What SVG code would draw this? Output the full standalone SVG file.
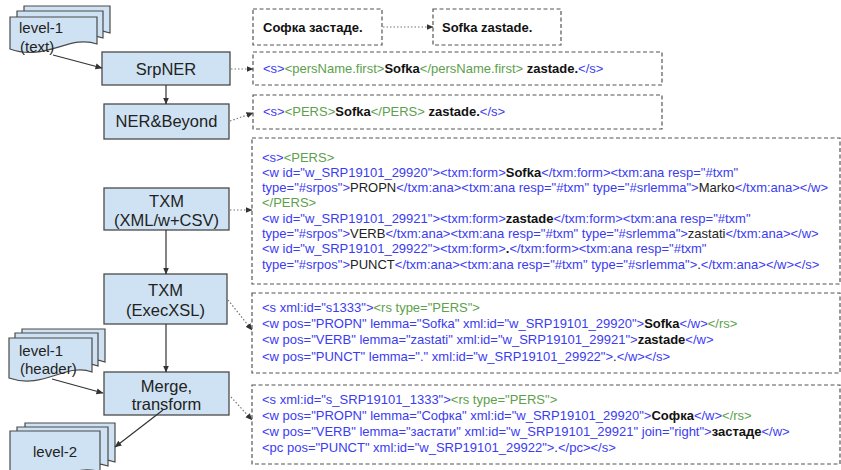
<svg xmlns="http://www.w3.org/2000/svg" width="841" height="470" viewBox="0 0 841 470">
<defs>
<style>
text{font-family:"Liberation Sans",Arial,sans-serif;}
.node{fill:#cfe2f3;stroke:#4a4a4a;stroke-width:1.3;}
.doc{fill:#cfe2f3;stroke:#4a4a4a;stroke-width:1.2;}
.lbl{font-size:16.5px;fill:#222;text-anchor:middle;}
.dl{font-size:15px;fill:#222;}
.box{fill:#fff;stroke:#555;stroke-width:1.2;stroke-dasharray:4 2.5;}
.big{font-size:13px;}
.sm{font-size:13px;}
.b{fill:#3b3bf2;}
.g{fill:#5da04c;}
.k{fill:#111;font-weight:bold;}
.n{fill:#222;}
.solid{stroke:#333;stroke-width:1.2;fill:none;marker-end:url(#ah);}
.dot{stroke:#777;stroke-width:1.2;fill:none;stroke-dasharray:1.5 2;marker-end:url(#ahd);}
</style>
<marker id="ah" markerUnits="userSpaceOnUse" markerWidth="7" markerHeight="7" refX="6.5" refY="3.5" orient="auto"><path d="M0,0.5 L7,3.5 L0,6.5 Z" fill="#333"/></marker>
<marker id="ahd" markerUnits="userSpaceOnUse" markerWidth="7" markerHeight="7" refX="6.5" refY="3.5" orient="auto"><path d="M0,0.5 L7,3.5 L0,6.5 Z" fill="#333"/></marker>
</defs>
<rect width="841" height="470" fill="#fff"/>

<g id="doc-level1-text">
<path class="doc" d="M24 6 H110 V33 C83 23 58 51 24 38 Z"/>
<path class="doc" d="M17 11 H103 V38 C76 28 51 56 17 43 Z"/>
<path class="doc" d="M10 17 H97 V44 C70 34 45 62 10 49 Z"/>
<text class="dl" x="19" y="33">level-1</text>
<text class="dl" x="20" y="52">(text)</text>
</g>

<g id="doc-level1-header">
<path class="doc" d="M22 329 H105 V362 C80 352 56 380 22 368 Z"/>
<path class="doc" d="M15 333 H98 V366 C73 356 49 384 15 372 Z"/>
<path class="doc" d="M9 338 H92 V372 C67 362 43 390 9 378 Z"/>
<text class="dl" x="19" y="356">level-1</text>
<text class="dl" x="20" y="374">(header)</text>
</g>

<g id="doc-level2">
<path class="doc" d="M25 423 H115 V462 C88 452 62 480 25 468 Z"/>
<path class="doc" d="M17 427 H108 V466 C81 456 55 484 17 472 Z"/>
<path class="doc" d="M10 431 H100 V472 C73 462 47 490 10 478 Z"/>
<text class="dl" x="33" y="457">level-2</text>
</g>

<g id="node-srpner">
<rect class="node" x="102" y="52" width="128" height="33"/>
<text class="lbl" x="166" y="75">SrpNER</text>
</g>
<g id="node-nerbeyond">
<rect class="node" x="104" y="104" width="125" height="35"/>
<text class="lbl" x="166.5" y="127">NER&amp;Beyond</text>
</g>
<g id="node-txm-xml">
<rect class="node" x="104" y="188" width="125" height="42"/>
<text class="lbl" x="166.5" y="207">TXM</text>
<text class="lbl" x="166.5" y="226">(XML/w+CSV)</text>
</g>
<g id="node-txm-xsl">
<rect class="node" x="104" y="274" width="123" height="50"/>
<text class="lbl" x="165.5" y="296">TXM</text>
<text class="lbl" x="165.5" y="316">(ExecXSL)</text>
</g>
<g id="node-merge">
<rect class="node" x="104" y="372" width="125" height="43"/>
<text class="lbl" x="166.5" y="392">Merge,</text>
<text class="lbl" x="166.5" y="410">transform</text>
</g>

<g id="box-cyr">
<rect class="box" x="253" y="9" width="129" height="36"/>
<text class="big k" x="263" y="32">Софка застаде.</text>
</g>
<g id="box-lat">
<rect class="box" x="433" y="9" width="128" height="36"/>
<text class="big k" x="442" y="32">Sofka zastade.</text>
</g>
<g id="box-srpner-out">
<rect class="box" x="253" y="52" width="409" height="33"/>
<text class="big" x="263" y="73"><tspan class="b">&lt;s&gt;</tspan><tspan class="g">&lt;persName.first&gt;</tspan><tspan class="k">Sofka</tspan><tspan class="g">&lt;/persName.first&gt;</tspan><tspan class="k"> zastade.</tspan><tspan class="b">&lt;/s&gt;</tspan></text>
</g>
<g id="box-ner-out">
<rect class="box" x="253" y="95" width="409" height="34"/>
<text class="big" x="263" y="116"><tspan class="b">&lt;s&gt;</tspan><tspan class="g">&lt;PERS&gt;</tspan><tspan class="k">Sofka</tspan><tspan class="g">&lt;/PERS&gt;</tspan><tspan class="k"> zastade.</tspan><tspan class="b">&lt;/s&gt;</tspan></text>
</g>
<g id="box-txm-out">
<rect class="box" x="252" y="138" width="588" height="146"/>
<text class="sm" x="262" y="161.5"><tspan class="b">&lt;s&gt;</tspan><tspan class="g">&lt;PERS&gt;</tspan></text>
<text class="sm" x="262" y="176.8"><tspan class="b">&lt;w id="w_SRP19101_29920"&gt;&lt;txm:form&gt;</tspan><tspan class="k">Sofka</tspan><tspan class="b">&lt;/txm:form&gt;&lt;txm:ana resp="#txm"</tspan></text>
<text class="sm" x="262" y="192.1"><tspan class="b">type="#srpos"&gt;</tspan><tspan class="n">PROPN</tspan><tspan class="b">&lt;/txm:ana&gt;&lt;txm:ana resp="#txm" type="#srlemma"&gt;</tspan><tspan class="n">Marko</tspan><tspan class="b">&lt;/txm:ana&gt;&lt;/w&gt;</tspan></text>
<text class="sm" x="262" y="207.4"><tspan class="g">&lt;/PERS&gt;</tspan></text>
<text class="sm" x="262" y="222.7"><tspan class="b">&lt;w id="w_SRP19101_29921"&gt;&lt;txm:form&gt;</tspan><tspan class="k">zastade</tspan><tspan class="b">&lt;/txm:form&gt;&lt;txm:ana resp="#txm"</tspan></text>
<text class="sm" x="262" y="238"><tspan class="b">type="#srpos"&gt;</tspan><tspan class="n">VERB</tspan><tspan class="b">&lt;/txm:ana&gt;&lt;txm:ana resp="#txm" type="#srlemma"&gt;</tspan><tspan class="n">zastati</tspan><tspan class="b">&lt;/txm:ana&gt;&lt;/w&gt;</tspan></text>
<text class="sm" x="262" y="253.3"><tspan class="b">&lt;w id="w_SRP19101_29922"&gt;&lt;txm:form&gt;</tspan><tspan class="k">.</tspan><tspan class="b">&lt;/txm:form&gt;&lt;txm:ana resp="#txm"</tspan></text>
<text class="sm" x="262" y="268.6"><tspan class="b">type="#srpos"&gt;</tspan><tspan class="n">PUNCT</tspan><tspan class="b">&lt;/txm:ana&gt;&lt;txm:ana resp="#txm" type="#srlemma"&gt;</tspan><tspan class="n">.</tspan><tspan class="b">&lt;/txm:ana&gt;&lt;/w&gt;&lt;/s&gt;</tspan></text>
</g>
<g id="box-xsl-out">
<rect class="box" x="252" y="293" width="588" height="80"/>
<text class="sm" x="262" y="311.5"><tspan class="b">&lt;s xml:id="s1333"&gt;</tspan><tspan class="g">&lt;rs type="PERS"&gt;</tspan></text>
<text class="sm" x="262" y="327.5"><tspan class="b">&lt;w pos="PROPN" lemma="Sofka" xml:id="w_SRP19101_29920"&gt;</tspan><tspan class="k">Sofka</tspan><tspan class="b">&lt;/w&gt;</tspan><tspan class="g">&lt;/rs&gt;</tspan></text>
<text class="sm" x="262" y="344"><tspan class="b">&lt;w pos="VERB" lemma="zastati" xml:id="w_SRP19101_29921"&gt;</tspan><tspan class="k">zastade</tspan><tspan class="b">&lt;/w&gt;</tspan></text>
<text class="sm" x="262" y="360.5"><tspan class="b">&lt;w pos="PUNCT" lemma="." xml:id="w_SRP19101_29922"&gt;</tspan><tspan class="n">.</tspan><tspan class="b">&lt;/w&gt;&lt;/s&gt;</tspan></text>
</g>
<g id="box-merge-out">
<rect class="box" x="252" y="385" width="588" height="79"/>
<text class="sm" x="262" y="404"><tspan class="b">&lt;s xml:id="s_SRP19101_1333"&gt;</tspan><tspan class="g">&lt;rs type="PERS"&gt;</tspan></text>
<text class="sm" x="262" y="420"><tspan class="b">&lt;w pos="PROPN" lemma="Софка" xml:id="w_SRP19101_29920"&gt;</tspan><tspan class="k">Софка</tspan><tspan class="b">&lt;/w&gt;</tspan><tspan class="g">&lt;/rs&gt;</tspan></text>
<text class="sm" x="262" y="436"><tspan class="b">&lt;w pos="VERB" lemma="застати" xml:id="w_SRP19101_29921" join="right"&gt;</tspan><tspan class="k">застаде</tspan><tspan class="b">&lt;/w&gt;</tspan></text>
<text class="sm" x="262" y="451.5"><tspan class="b">&lt;pc pos="PUNCT" xml:id="w_SRP19101_29922"&gt;</tspan><tspan class="n">.</tspan><tspan class="b">&lt;/pc&gt;&lt;/s&gt;</tspan></text>
</g>

<g id="connectors">
<path class="solid" d="M53 55 L102 68"/>
<path class="solid" d="M166 85 L166 104"/>
<path class="solid" d="M166 230 L166 274"/>
<path class="solid" d="M166 324 L166 372"/>
<path class="solid" d="M52 379 L103 393"/>
<path class="solid" d="M163 410 L115 447"/>
<path class="dot" d="M383 27 L433 27"/>
<path class="dot" d="M231 69 L253 69"/>
<path class="dot" d="M230 121 L253 113"/>
<path class="dot" d="M230 210 L252 210"/>
<path class="dot" d="M228 300 L252 330"/>
<path class="dot" d="M231 397 L252 420"/>
</g>
</svg>
